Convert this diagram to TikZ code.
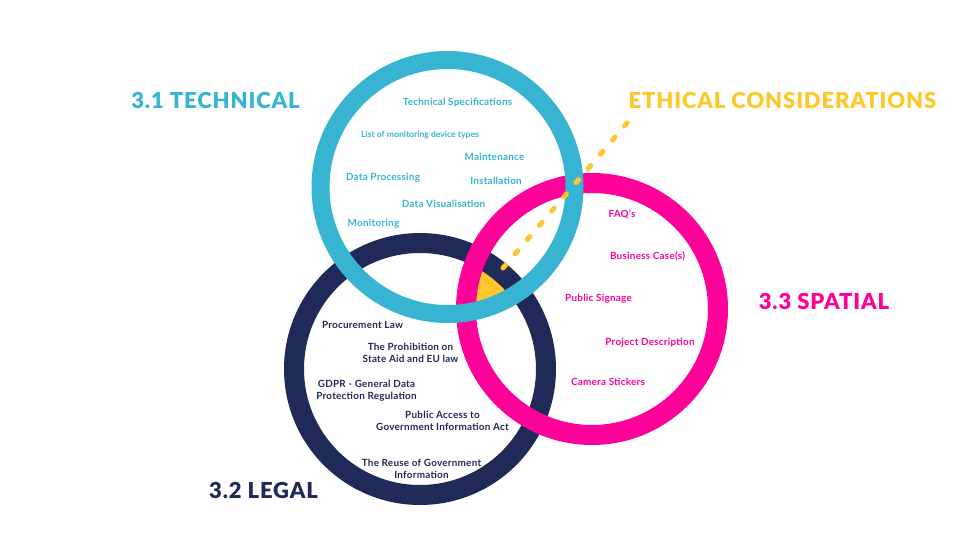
\documentclass[tikz,border=0pt]{standalone}
\usepackage{fontspec}
\setmainfont{Lato}
\newfontfamily\heavyfont{Lato Black}
\definecolor{ctech}{HTML}{36B4D1}
\definecolor{cspat}{HTML}{FF0099}
\definecolor{clegal}{HTML}{1F2A59}
\definecolor{ceth}{HTML}{FFC72C}
\begin{document}
\begin{tikzpicture}[x=1pt,y=-1pt,
  ring/.style={line width=20pt},
  lbl/.style={font=\bfseries\fontsize{9.9}{12}\selectfont\addfontfeatures{LetterSpace=2.5}, align=center, inner sep=0pt},
  tiny/.style={font=\bfseries\fontsize{8.6}{10}\selectfont, inner sep=0pt},
  title/.style={font=\heavyfont\fontsize{22}{24}\selectfont\addfontfeatures{LetterSpace=4}, inner sep=0pt},
  dashline/.style={ceth, line width=5pt, line cap=round, dash pattern=on 4pt off 14.7pt}]
\useasboundingbox (0,0) rectangle (970,546);
\coordinate (T) at (447.5,187);
\coordinate (L) at (420,369);
\coordinate (S) at (592,309);
% yellow intersection
\begin{scope}
  \clip (T) circle[radius=127pt];
  \clip (L) circle[radius=126pt];
  \fill[ceth] (S) circle[radius=126pt];
\end{scope}
% rings
\draw[ring,clegal] (L) circle[radius=126pt];
\draw[ring,cspat] (S) circle[radius=126pt];
\draw[ring,ctech,line width=18pt] (T) circle[radius=127pt];
% ethical dashed line
\coordinate (e1) at (503,268);
\coordinate (e2) at (628,122);
\draw[dashline] (e1) -- (e2);
% titles
\node[title,ctech] (ttech) at (215.5,100) {3.1 TECHNICAL};
\node[title,ceth] (teth) at (782.5,100) {ETHICAL CONSIDERATIONS};
\node[title,cspat] (tspat) at (824,301) {3.3 SPATIAL};
\node[title,clegal] (tlegal) at (263.5,490) {3.2 LEGAL};
% technical
\node[lbl,ctech] (t1) at (457.5,103) {Technical Specifications};
\node[tiny,ctech] (t2) at (420,135) {List of monitoring device types};
\node[lbl,ctech] (t3) at (494.5,157) {Maintenance};
\node[lbl,ctech] (t4) at (383,178) {Data Processing};
\node[lbl,ctech] (t5) at (496,181) {Installation};
\node[lbl,ctech] (t6) at (443.5,204) {Data Visualisation};
\node[lbl,ctech] (t7) at (373.5,224) {Monitoring};
% spatial
\node[lbl,cspat] (s1) at (622,214) {FAQ's};
\node[lbl,cspat] (s2) at (647.5,256) {Business Case(s)};
\node[lbl,cspat] (s3) at (598.5,299) {Public Signage};
\node[lbl,cspat] (s4) at (650,343) {Project Description};
\node[lbl,cspat] (s5) at (608,382) {Camera Stickers};
% legal
\node[lbl,clegal] (l1) at (362.5,325) {Procurement Law};
\node[lbl,clegal] (l2) at (410.5,353) {The Prohibition on\\State Aid and EU law};
\node[lbl,clegal] (l3) at (366.5,391) {GDPR - General Data\\Protection Regulation};
\node[lbl,clegal] (l4) at (442.5,420.5) {Public Access to\\Government Information Act};
\node[lbl,clegal] (l5) at (421.5,469) {The Reuse of Government\\Information};
\end{tikzpicture}
\end{document}
